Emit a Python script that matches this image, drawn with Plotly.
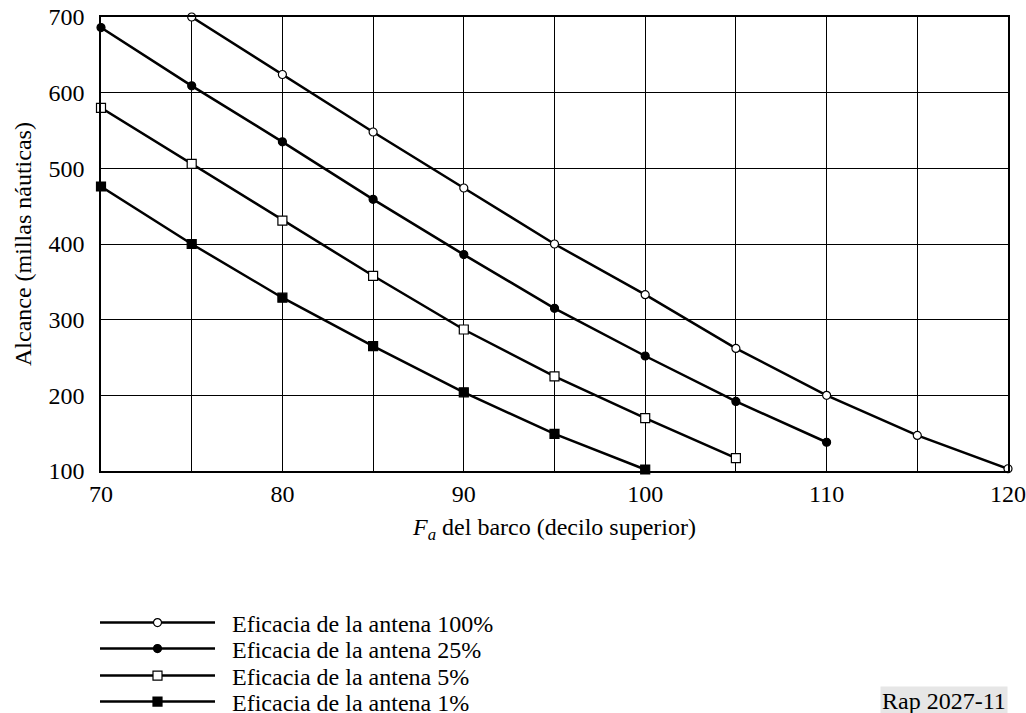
import plotly.graph_objects as go

x_100 = [75, 80, 85, 90, 95, 100, 105, 110, 115, 120]
y_100 = [700, 624, 548, 474, 400, 333, 262, 200, 147, 103]

x_25 = [70, 75, 80, 85, 90, 95, 100, 105, 110]
y_25 = [686, 609, 535, 459, 386, 315, 252, 192, 138]

x_5 = [70, 75, 80, 85, 90, 95, 100, 105]
y_5 = [580, 506, 431, 358, 287, 225, 170, 117]

x_1 = [70, 75, 80, 85, 90, 95, 100]
y_1 = [476, 400, 329, 265, 204, 149, 102]

names = ["Eficacia de la antena 100%", "Eficacia de la antena 25%",
         "Eficacia de la antena 5%", "Eficacia de la antena 1%"]

FONT = "Liberation Serif, Times New Roman, serif"
FS = 24

W, H = 1026, 713
ML, MR, MT, MB = 101, 18, 17, 242
PW, PH = W - ML - MR, H - MT - MB


def paper_x(px):
    return (px - ML) / PW


def paper_y(py):
    return (H - MB - py) / PH


series = [
    (x_100, y_100, "circle", "white", 8),
    (x_25, y_25, "circle", "black", 8),
    (x_5, y_5, "square", "white", 9),
    (x_1, y_1, "square", "black", 9),
]

fig = go.Figure()
legend_layout = {}
legend_row_px = [623, 649, 676, 702]
for i, ((xs, ys, sym, fill, sz), nm) in enumerate(zip(series, names)):
    lg = "legend" if i == 0 else f"legend{i + 1}"
    fig.add_trace(go.Scatter(
        x=xs, y=ys, name="\u00a0\u00a0" + nm, mode="lines+markers",
        line=dict(color="black", width=2.5),
        marker=dict(symbol=sym, color=fill, size=sz,
                    line=dict(color="black", width=1.2)),
        cliponaxis=False, legend=lg,
    ))
    legend_layout[lg] = dict(
        xref="container", yref="container",
        x=95 / W, y=1 - legend_row_px[i] / H,
        xanchor="left", yanchor="middle",
        bgcolor="rgba(0,0,0,0)", itemwidth=115,
        font=dict(family=FONT, size=FS, color="black"),
        itemclick=False, itemdoubleclick=False,
    )

fig.update_layout(
    width=W, height=H,
    margin=dict(l=ML, r=MR, t=MT, b=MB, autoexpand=False),
    paper_bgcolor="white", plot_bgcolor="white",
    font=dict(family=FONT, size=FS, color="black"),
    showlegend=True,
    xaxis=dict(
        range=[70, 120], dtick=10, tick0=70,
        showgrid=True, gridcolor="black", gridwidth=1,
        minor=dict(dtick=5, showgrid=True, gridcolor="black", gridwidth=1),
        showline=True, linecolor="black", linewidth=1.5, mirror=True,
        zeroline=False, ticks="",
        tickfont=dict(family=FONT, size=FS),
        title=dict(text="<i>F</i><sub><i>a</i></sub> del barco (decilo superior)",
                   font=dict(family=FONT, size=FS), standoff=13),
    ),
    yaxis=dict(
        range=[100, 700], dtick=100, tick0=100,
        showgrid=True, gridcolor="black", gridwidth=1,
        showline=True, linecolor="black", linewidth=1.5, mirror=True,
        zeroline=False, ticks="outside", ticklen=10, tickcolor="white",
        tickfont=dict(family=FONT, size=FS),
    ),
    annotations=[
        dict(
            text="Alcance (millas náuticas)", xref="paper", yref="paper",
            x=paper_x(23), y=paper_y(244), xanchor="center", yanchor="middle",
            textangle=-90, showarrow=False,
            font=dict(family=FONT, size=FS, color="black"),
        ),
        dict(
            text="Rap 2027-11", xref="paper", yref="paper",
            x=paper_x(1008), y=paper_y(701),
            xanchor="right", yanchor="middle",
            showarrow=False, bgcolor="#e6e6e6",
            font=dict(family=FONT, size=FS, color="black"),
        ),
    ],
    **legend_layout,
)

fig.write_html("out.html", config={"displayModeBar": False},
               post_script="document.body.style.margin='0';")
